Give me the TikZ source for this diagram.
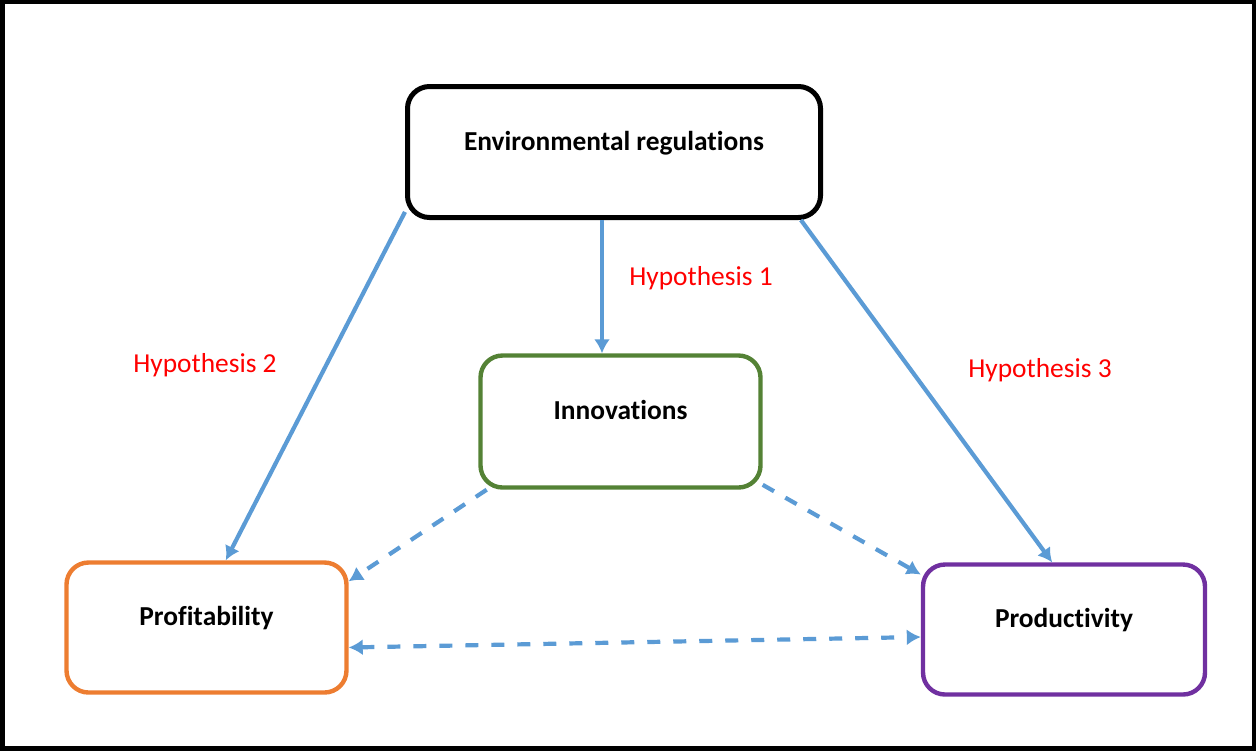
\documentclass[tikz,border=0pt]{standalone}
\usepackage{fontspec}
\setmainfont{Carlito}[Ligatures=NoCommon]
\usepackage{tikz}
\usetikzlibrary{shapes}
\usetikzlibrary{arrows,arrows.meta,positioning}
\definecolor{linkblue}{RGB}{91,155,213}
\definecolor{hypred}{RGB}{255,0,0}
\definecolor{proforange}{RGB}{237,125,49}
\definecolor{innogreen}{RGB}{84,130,53}
\definecolor{prodpurple}{RGB}{112,48,160}
\tikzstyle{main box}=[rectangle, rounded corners=11pt, fill=white, line width=2.2pt, inner sep=0pt, minimum width=140pt, minimum height=65.5pt, text height=8pt, text depth=10pt, font=\fontsize{13.7}{16}\selectfont\bfseries]
\tikzstyle{hyp label}=[text=hypred, font=\fontsize{13.7}{16}\selectfont]
\tikzstyle{link}=[linkblue, line width=2.1pt]
\tikzstyle{weak link}=[link, dash pattern=on 6.5pt off 6.5pt]

\begin{document}
\begin{tikzpicture}[-{Latex[length=7pt,width=8pt]}, x=0.5pt, y=-0.5pt]
\useasboundingbox (0,0) rectangle (1256,751);
\draw[-, line width=2.2pt] (2.5,2) rectangle (1254,748.5);
%
  \node[main box, draw=black, line width=2.5pt, minimum width=206.5pt] (env) at (614,152) {Environmental regulations};
  \node[main box, draw=innogreen, minimum height=66pt] (inno) at (620.5,421.5) {Innovations};
  \node[main box, draw=proforange, minimum height=65pt] (prof) at (206.5,627.5) {Profitability};
  \node[main box, draw=prodpurple, minimum width=141pt, minimum height=65pt] (prod) at (1064,629.5) {Productivity};
%
  \node[hyp label] (h1) at (701,278) {Hypothesis 1};
  \node[hyp label] (h2) at (205,365) {Hypothesis 2};
  \node[hyp label] (h3) at (1040,370) {Hypothesis 3};
%
  \coordinate (down) at ([xshift=-6pt]env.south);
 \path[link]
	(env.196) edge (prof.74)
	(down) edge (down |- inno.north)
	(env.340) edge (prod.100);
 \path[weak link]
	(inno.207) edge (prof.18)
	(inno.336) edge (prod.159)
	(prof.352) edge[{Latex[length=7pt,width=8pt]}-{Latex[length=7pt,width=8pt]}] (prod.183);
%
\end{tikzpicture}
\end{document}
